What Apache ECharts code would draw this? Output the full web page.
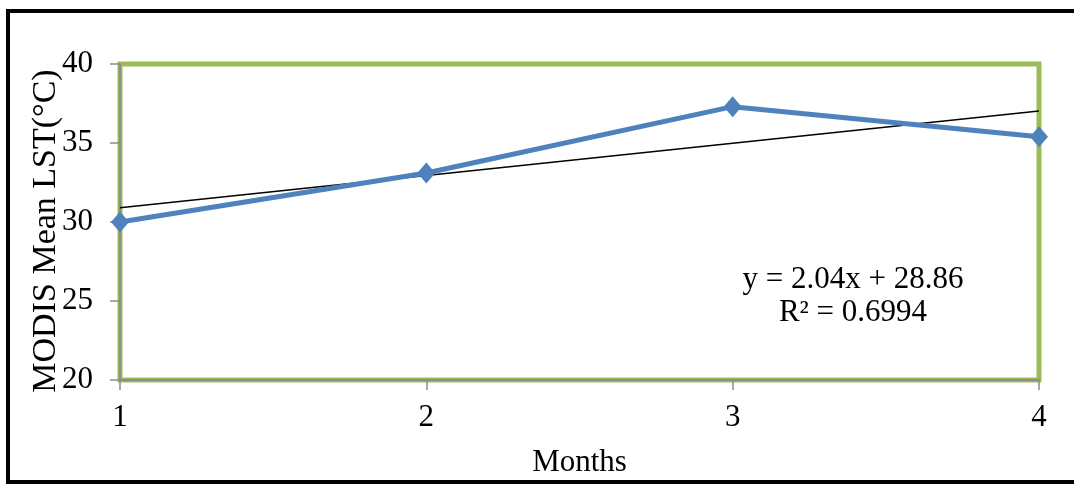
<!DOCTYPE html>
<html>
<head>
<meta charset="utf-8">
<script src="https://cdn.jsdelivr.net/npm/echarts@6/dist/echarts.min.js"></script>
<style>
html,body{margin:0;padding:0;background:#fff;}
#chart{width:1074px;height:485px;}
</style>
</head>
<body>
<div id="chart"></div>
<script>
// Data
const months = [1, 2, 3, 4];
const lstValues = [30.0, 33.1, 37.3, 35.4];
const trendX = [1, 4];
const trendValues = [30.9, 37.02];
const yTicks = [20, 25, 30, 35, 40];
const equationLines = ['y = 2.04x + 28.86', 'R² = 0.6994'];
const xTitle = 'Months';
const yTitle = 'MODIS Mean LST(°C)';

const font = '"Liberation Serif", "Times New Roman", serif';
const fs = 31;
const chart = echarts.init(document.getElementById('chart'));
chart.setOption({
  animation: false,
  backgroundColor: '#fff',
  grid: {
    left: 120, right: 35, top: 64, bottom: 105,
    show: true, borderColor: '#9BBB59', borderWidth: 5, backgroundColor: 'transparent'
  },
  xAxis: {
    type: 'value', min: 1, max: 4, interval: 1,
    name: xTitle, nameLocation: 'middle', nameGap: 67,
    nameTextStyle: { fontFamily: font, fontSize: fs, color: '#000' },
    axisLine: { show: true, lineStyle: { color: '#8c8c8c', width: 2 } },
    axisTick: { show: true, length: 10, lineStyle: { color: '#8c8c8c', width: 1.5 } },
    axisLabel: { margin: 22, fontFamily: font, fontSize: fs, color: '#000' },
    splitLine: { show: false }
  },
  yAxis: {
    type: 'value', min: yTicks[0], max: yTicks[yTicks.length - 1], interval: 5,
    axisLine: { show: true, lineStyle: { color: '#8c8c8c', width: 2 } },
    axisTick: { show: true, length: 10, lineStyle: { color: '#8c8c8c', width: 1.5 } },
    axisLabel: { margin: 27, fontFamily: font, fontSize: fs, color: '#000' },
    splitLine: { show: false }
  },
  series: [
    {
      type: 'line',
      data: trendX.map((x, i) => [x, trendValues[i]]),
      symbol: 'none',
      lineStyle: { color: '#000', width: 1.5 },
      z: 2
    },
    {
      type: 'line',
      data: months.map((x, i) => [x, lstValues[i]]),
      symbol: 'diamond', symbolSize: [18, 21],
      itemStyle: { color: '#4F81BD' },
      lineStyle: { color: '#4F81BD', width: 5 },
      z: 3
    }
  ],
  graphic: [
    {
      type: 'rect', silent: true,
      shape: { x: 8, y: 11, width: 1100, height: 471 },
      style: { fill: 'none', stroke: '#000', lineWidth: 4 }
    },
    {
      type: 'text', x: 46, y: 231, rotation: Math.PI / 2,
      style: {
        text: yTitle, fontFamily: font, fontSize: 34,
        fill: '#000', textAlign: 'center', textVerticalAlign: 'middle'
      }
    },
    {
      type: 'text', x: 853, y: 280,
      style: {
        text: equationLines[0], fontFamily: font, fontSize: fs,
        fill: '#000', textAlign: 'center', textVerticalAlign: 'middle'
      }
    },
    {
      type: 'text', x: 853, y: 313,
      style: {
        text: equationLines[1], fontFamily: font, fontSize: fs,
        fill: '#000', textAlign: 'center', textVerticalAlign: 'middle'
      }
    }
  ]
});
</script>
</body>
</html>
